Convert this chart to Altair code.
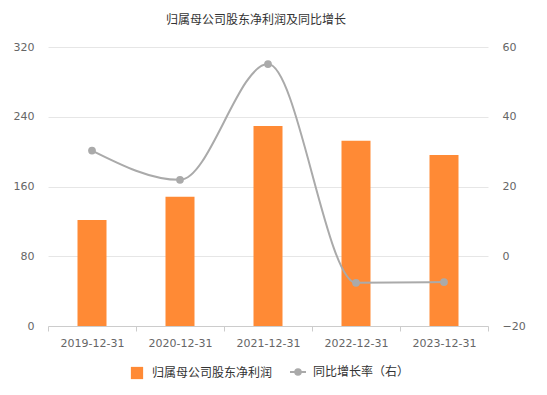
import altair as alt
import pandas as pd

dates = ["2019-12-31", "2020-12-31", "2021-12-31", "2022-12-31", "2023-12-31"]
profit = [121.6, 148.3, 229.4, 212.5, 196.0]
growth = [30.3, 21.9, 55.1, -7.6, -7.4]
bar_name = "归属母公司股东净利润"
line_name = "同比增长率（右）"
left_ticks = [0, 80, 160, 240, 320]
right_ticks = [-20, 0, 20, 40, 60]

df = pd.DataFrame({"date": dates, "profit": profit, "growth": growth,
                   "bname": [bar_name] * 5, "lname": [line_name] * 5})

FONT = "Noto Sans CJK SC"
NUMFONT = "DejaVu Sans"
ORANGE = "#FF8A35"
GRAY = "#AAAAAA"

xenc = alt.X("date:N", title=None, sort=dates,
             scale=alt.Scale(type="band", paddingInner=0, paddingOuter=0),
             axis=alt.Axis(labelAngle=0, tickBand="extent", domainColor="#CCCCCC",
                           tickColor="#CCCCCC", tickSize=5, labelColor="#666666",
                           labelFontSize=11, labelPadding=6, grid=False))

bars = alt.Chart(df).mark_bar(size=29, color=ORANGE).encode(
    x=xenc,
    y=alt.Y("profit:Q", title=None,
            scale=alt.Scale(domain=[0, 320], nice=False),
            axis=alt.Axis(values=left_ticks, grid=True, gridColor="#E6E6E6",
                          domain=False, ticks=False, labelColor="#666666",
                          labelFontSize=11, labelPadding=14)),
    color=alt.Color("bname:N", scale=alt.Scale(range=[ORANGE]),
                    legend=alt.Legend(title=None, orient="none", legendX=82, legendY=319,
                                      symbolType="square", labelOffset=8,
                                      symbolSize=150, labelFontSize=12, labelColor="#333333",
                                      labelFont=FONT, symbolOpacity=1)),
)

right_axis = alt.Axis(values=right_ticks, grid=False, domain=False, ticks=False,
                      labelColor="#666666", labelFontSize=11, labelPadding=14,
                      orient="right")
yr = alt.Y("growth:Q", title=None, scale=alt.Scale(domain=[-20, 60], nice=False),
           axis=right_axis)

line = alt.Chart(df).mark_line(interpolate="monotone", strokeWidth=2).encode(
    x=alt.X("date:N", sort=dates),
    y=yr,
    color=alt.Color("lname:N", scale=alt.Scale(range=[GRAY]),
                    legend=alt.Legend(title=None, orient="none", legendX=244, legendY=319,
                                      symbolType="M-1.6,0L1.6,0M0.55,0A0.55,0.55,0,1,1,-0.55,0A0.55,0.55,0,1,1,0.55,0Z",
                                      symbolSize=100, symbolFillColor=GRAY, labelOffset=9,
                                      symbolStrokeColor=GRAY, symbolStrokeWidth=2,
                                      labelFontSize=12, labelColor="#333333",
                                      labelFont=FONT)),
)
pts = alt.Chart(df).mark_point(filled=True, size=60, color=GRAY, opacity=1).encode(
    x=alt.X("date:N", sort=dates),
    y=yr,
)

right = alt.layer(line, pts)

chart = alt.layer(bars, right).resolve_scale(
    y="independent", color="independent"
).resolve_legend(color="independent").properties(
    width=440, height=279,
    title=alt.TitleParams("归属母公司股东净利润及同比增长", fontSize=12, font=FONT,
                          fontWeight="normal", color="#333333", offset=14, dx=-12),
    autosize=alt.AutoSizeParams(type="none"),
    padding={"left": 40, "top": 39, "right": 51, "bottom": 61},
).configure_view(stroke=None).configure_axis(labelFont=NUMFONT)

chart.save("out.html", embed_options={"renderer": "svg", "actions": False})
